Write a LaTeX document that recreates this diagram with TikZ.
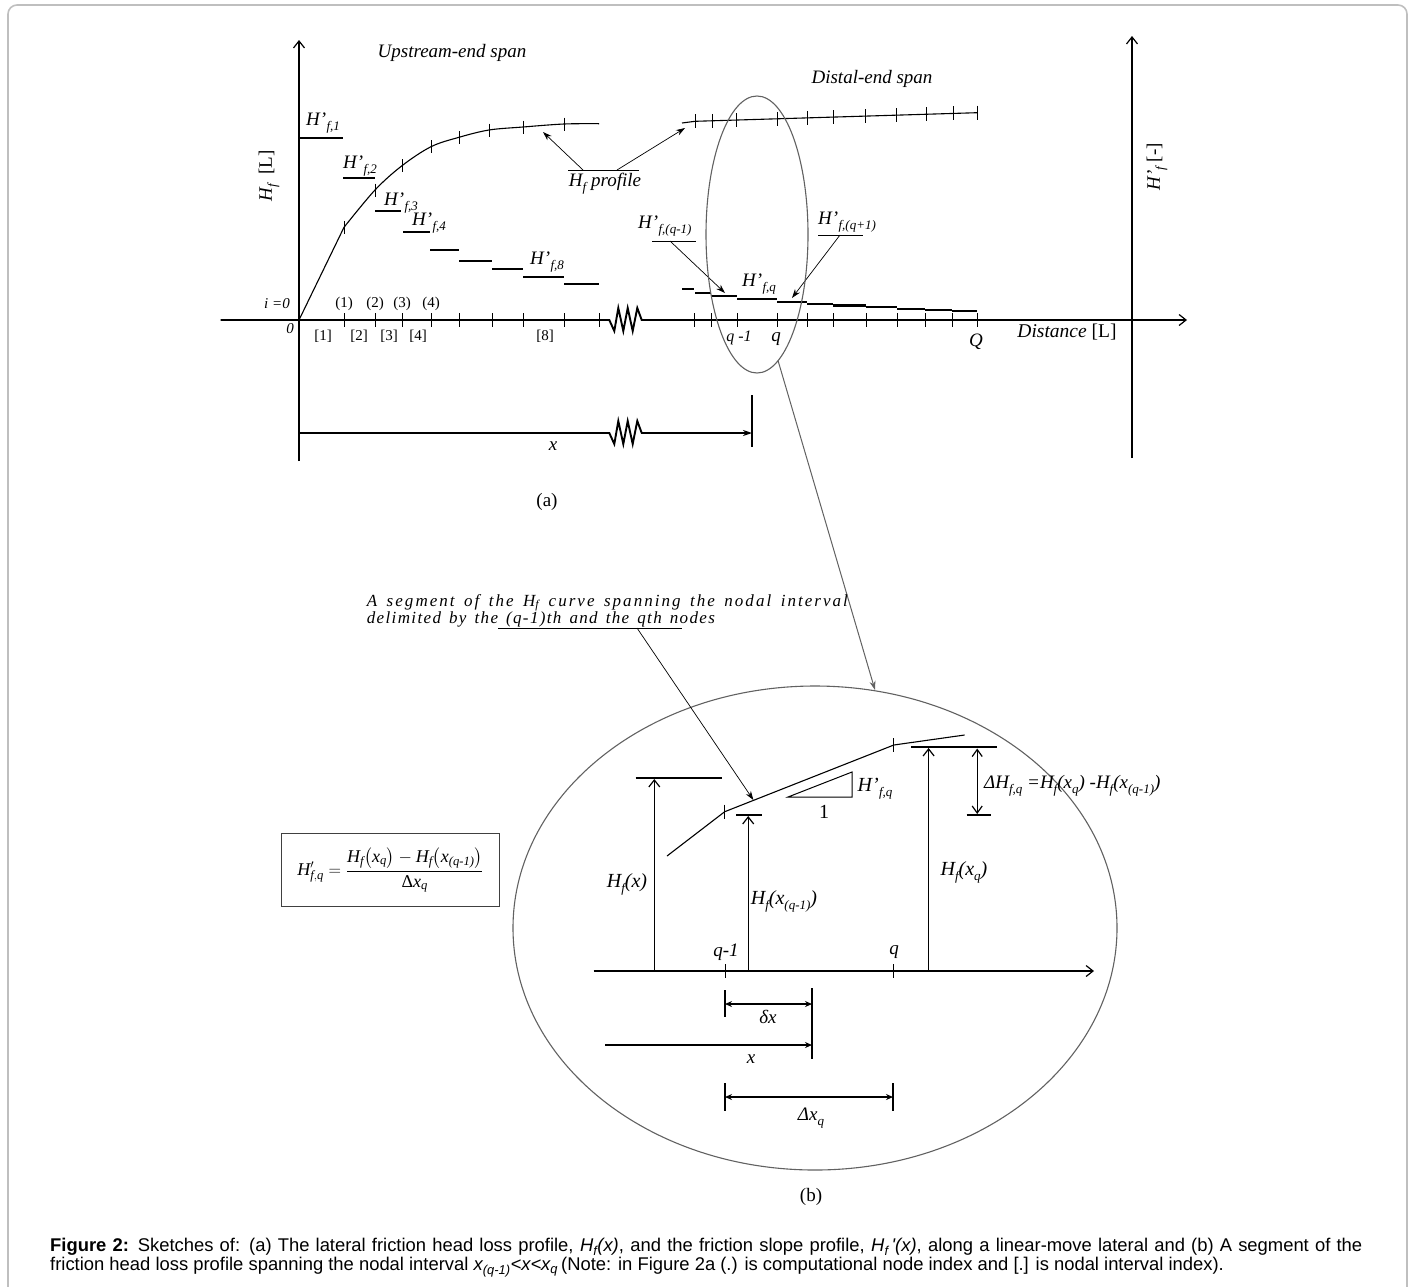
\documentclass[tikz,border=0pt]{standalone}
\usepackage{fontspec}
\setmainfont{Liberation Serif}
\newfontfamily\capfont{Liberation Sans}
\usepackage{amsmath}
\usetikzlibrary{arrows.meta,shapes.geometric,calc}
\newcommand\lsub[1]{\raisebox{-0.55ex}{\fontsize{13}{13}\selectfont\itshape #1}}
\newcommand\Hp[1]{\textit{H'}\kern0.3pt\lsub{f,#1}}
\newcommand\ti[1]{\text{\itshape #1}}
\tikzset{
 ax/.style={line width=1.5pt},
 haxis/.style={line width=1.9pt},
 tk/.style={line width=0.9pt},
 stp/.style={line width=2.2pt},
 crv/.style={line width=1.1pt},
 ann/.style={line width=0.7pt},
 annarrow/.style={ann,-{Stealth[length=9pt,width=6pt]}},
 barbtip/.style={-{Straight Barb[length=7pt,width=11pt,line width=1.2pt]}},
 dimarr/.style={line width=1.1pt,{Stealth[length=7pt,width=6pt]}-{Stealth[length=7pt,width=6pt]}},
 lbl/.style={inner sep=0pt},
 blbl/.style={inner sep=0pt, font=\fontsize{20}{23}\selectfont},
 sm/.style={font=\fontsize{15}{18}\selectfont, inner sep=0pt},
 gry/.style={draw=black!62, line width=1.1pt},
}
\begin{document}
\begin{tikzpicture}[x=1pt,y=-1pt,font=\fontsize{19}{22}\selectfont]
\useasboundingbox (0,0) rectangle (1415,1286);
% frame
\draw[black!25, line width=1.6pt, rounded corners=9pt] (8,1300) -- (8,5) -- (1407,5) -- (1407,1300);

% ================= panel (a) =================
\draw[ax, barbtip] (299,461) -- (299,40);
\draw[ax, barbtip] (1132,458) -- (1132,36);
\draw[haxis, barbtip] (220.7,320) -- (609.3,320) -- ++(5,11) -- ++(4,-23) -- ++(5,23) -- ++(4.4,-23) -- ++(5,23) -- ++(4.6,-23) -- ++(4.4,12) -- (1187,320);
% axis ticks
\foreach \x in {344,375,402,431,459,492,523,564,599,694,711,737,777,807,833,866,897,925,952,977}
  \draw[tk] (\x,313) -- (\x,327);
% upstream Hf curve
\draw[crv] (299,320) -- (344,227.3);
\draw[crv] plot[smooth, tension=0.55] coordinates{(344,227.3)(375,190)(402,165.7)(431,146.7)(459,137.3)(489,130)(523,127)(564,124)(599,123.7)};
\foreach \x/\y in {344/227.3,375/190,402/165.7,431/146.7,459/137.3,489/130,523/127,564/124}
  \draw[tk] (\x,\y-6.5) -- (\x,\y+6.5);
% distal Hf curve
\draw[crv] (682,123) -- (695,121.3) -- (977,112.7);
\foreach \x in {695,712,736,777,807,833,865,896,926,953,977}{
  \pgfmathsetmacro\yy{121.3-(\x-695)*8.6/282}
  \draw[tk] (\x,\yy-7) -- (\x,\yy+7);
}
% steps
\foreach \a/\b/\y in {299/343/138,343/375/178,375/401/211,403/430/232,430/459/250,459/492/261,492/523/269,523/564/277,564/599/284,
  682/694/289,695/711/293,711/737/296,737/777/299,777/807/302,807/833/304,833/866/305.5,866/897/307.3,897/925/308.7,925/952/310,952/977/311}
  \draw[stp] (\a,\y) -- (\b,\y);
% step labels
\node[lbl, anchor=west] (h1) at (306,123) {\Hp{1}};
\node[lbl, anchor=west] (h2) at (343,166) {\Hp{2}};
\node[lbl, anchor=west] (h3) at (384,203) {\Hp{3}};
\node[lbl, anchor=west] (h4) at (412,223) {\Hp{4}};
\node[lbl, anchor=west] (h8) at (530,262) {\Hp{8}};
\node[lbl, anchor=west] (hqm) at (638,226) {\Hp{(q-1)}};
\node[lbl, anchor=west] (hq) at (742,284) {\Hp{q}};
\node[lbl, anchor=west] (hqp) at (818,222) {\Hp{(q+1)}};
\coordinate (uqm1) at (652,241); \coordinate (uqm2) at (696,241);
\coordinate (uqp1) at (818,235); \coordinate (uqp2) at (863,235);
\draw[ann] (uqm1) -- (uqm2);
\draw[ann] (uqp1) -- (uqp2);
\coordinate (aqm0) at (670,241); \coordinate (aqm1) at (725,293);
\coordinate (aqp0) at (840,235); \coordinate (aqp1) at (792,298);
\draw[annarrow] (aqm0) -- (aqm1);
\draw[annarrow] (aqp0) -- (aqp1);
% Hf profile
\coordinate (hp1) at (568,170); \coordinate (hp2) at (639,170);
\draw[ann] (hp1) -- (hp2);
\node[lbl] (hprof) at (605,184) {\textit{H\lsub{f} profile}};
\coordinate (hpa0) at (583,170); \coordinate (hpa1) at (543,132);
\coordinate (hpb0) at (617,170); \coordinate (hpb1) at (685,128);
\draw[annarrow] (hpa0) -- (hpa1);
\draw[annarrow] (hpb0) -- (hpb1);
% titles
\node[lbl] (ups) at (452,53) {\textit{Upstream-end span}};
\node[lbl] (dis) at (872,79) {\textit{Distal-end span}};
\node[lbl, rotate=90] (ylab) at (269,176) {\textit{H\lsub{f}}\ \ [L]};
\node[lbl, rotate=90] (ylab2) at (1157,167) {\textit{H'\lsub{f}} [-]};
% index labels
\node[sm] (n1) at (344,304) {(1)};
\node[sm] (n2) at (375,304) {(2)};
\node[sm] (n3) at (402,304) {(3)};
\node[sm] (n4) at (431,304) {(4)};
\node[sm] (i0) at (277,304) {\textit{i =0}};
\node[sm] (z0) at (290,329) {\textit{0}};
\node[sm] (b1) at (323,336) {[1]};
\node[sm] (b2) at (359,336) {[2]};
\node[sm] (b3) at (389,336) {[3]};
\node[sm] (b4) at (418,336) {[4]};
\node[sm] (b8) at (545,336) {[8]};
\node[sm, font=\fontsize{16}{18}\selectfont] (lqm) at (739,338) {\textit{q -1}};
\node[lbl] (lq) at (776,339) {\textit{q}};
\node[lbl] (lQ) at (976,342) {\textit{Q}};
\node[lbl, font=\fontsize{19.5}{22}\selectfont] (dist) at (1067,332) {\textit{Distance} [L]};
% x dimension
\draw[haxis] (299,433) -- (609.3,433) -- ++(5,11) -- ++(4,-23) -- ++(5,23) -- ++(4.4,-23) -- ++(5,23) -- ++(4.6,-23) -- ++(4.4,12);
\coordinate (xd0) at (641.4,433); \coordinate (xd1) at (752,433);
\draw[line width=1.2pt, -{Stealth[length=9pt,width=6pt]}] (xd0) -- (xd1);
\draw[line width=2pt] (752,395) -- (752,447);
\node[lbl] (xa) at (553,446) {\textit{x}};
\node[lbl] (pa) at (547,502) {(a)};
% small ellipse
\node[gry, ellipse, minimum width=102pt, minimum height=277pt, inner sep=0pt] (sell) at (757,234.5) {};

% ================= panel (b) =================
\node[gry, ellipse, minimum width=604pt, minimum height=484pt, inner sep=0pt] (bell) at (815,928) {};
\coordinate (c1) at (778,360.5); \coordinate (c2) at (875,690);
\draw[draw=black!62, line width=1pt, -{Stealth[length=9pt,width=6pt]}] (c1) -- (c2);

% segment note
\node[lbl, anchor=base west, font=\fontsize{17}{19}\selectfont\itshape\addfontfeature{LetterSpace=12}] (seg1) at (366.7,606)
  {\makebox[481pt][s]{A segment of the H\textsubscript{f} curve spanning the nodal interval}};
\node[lbl, anchor=base west, font=\fontsize{17}{19}\selectfont\itshape\addfontfeature{LetterSpace=8}] (seg2) at (366.7,623)
  {\makebox[348pt][s]{delimited by the (q-1)th and the qth nodes}};
\coordinate (su0) at (498,628); \coordinate (su1) at (682,628);
\draw[ann] (su0) -- (su1);
\coordinate (sa0) at (637,628); \coordinate (sa1) at (753.4,800);
\draw[annarrow] (sa0) -- (sa1);

% axis b
\draw[line width=1.3pt, barbtip] (593.6,971) -- (1094,971);
\draw[tk] (725.4,964) -- (725.4,978);
\draw[tk] (893,964) -- (893,978);
% curve b
\draw[crv] (667,856) -- (724.7,811.7) -- (893.8,745) -- (964.6,735);
\draw[tk] (724.7,804.7) -- (724.7,818.7);
\draw[tk] (893.8,738) -- (893.8,752);
% bars
\draw[stp] (635.5,777.7) -- (721.6,777.7);
\draw[stp] (736,815) -- (762,815);
\draw[stp] (911,746.7) -- (997,746.7);
\draw[stp] (966.5,815) -- (991.4,815);
% vertical arrows
\draw[line width=1.3pt, barbtip] (654.3,971) -- (654.3,779);
\draw[line width=1.3pt, barbtip] (748.2,971) -- (748.2,816);
\draw[line width=1.3pt, barbtip] (928.6,971) -- (928.6,748);
\draw[line width=1.2pt, {Straight Barb[length=7pt,width=10pt,line width=1.2pt]}-{Straight Barb[length=7pt,width=10pt,line width=1.2pt]}] (977.2,748.5) -- (977.2,814);
% triangle
\draw[line width=1pt] (788,797) -- (852,797) -- (852,772) -- cycle;
\node[blbl] (hfq) at (875,789) {\Hp{q}};
\node[blbl] (one) at (824,812) {1};
\node[lbl, anchor=west] (dH) at (984,786) {\textit{ΔH\lsub{f,q} =H\lsub{f}(x\lsub{q}) -H\lsub{f}(x\lsub{(q-1)})}};
\node[blbl] (lhx) at (627,884) {\textit{H\lsub{f}(x)}};
\node[blbl] (lhxm) at (784,901) {\textit{H\lsub{f}(x\lsub{(q-1)})}};
\node[blbl] (lhxq) at (964,872.7) {\textit{H\lsub{f}(x\lsub{q})}};
\node[lbl] (bq1) at (726,952) {\textit{q-1}};
\node[lbl] (bq) at (894,952) {\textit{q}};
% dimensions
\draw[line width=2pt] (725,990) -- (725,1017);
\draw[line width=2pt] (812,988) -- (812,1059);
\draw[dimarr] (725,1004) -- (812,1004);
\node[lbl] (ldx) at (768,1017) {\textit{δx}};
\draw[line width=1.1pt, -{Stealth[length=7pt,width=6pt]}] (605,1045) -- (812,1045);
\node[lbl] (lx) at (751,1059) {\textit{x}};
\draw[line width=2pt] (725,1083) -- (725,1111);
\draw[line width=2pt] (893,1083) -- (893,1111);
\draw[dimarr] (725,1097) -- (893,1097);
\node[lbl] (lDx) at (811,1118) {\textit{Δx\lsub{q}}};
\node[lbl] (pb) at (811,1197) {(b)};

% formula box
\node[draw=black!75, line width=1pt, minimum width=217.6pt, minimum height=73.4pt, inner sep=0pt, font=\fontsize{18}{21}\selectfont] (fbox) at (390.5,870)
 {$\ti{H}'_{\ti{f},\ti{q}}=\dfrac{\ti{H}_{\ti{f}}\bigl(\ti{x}_{\ti{q}}\bigr)-\ti{H}_{\ti{f}}\bigl(\ti{x}_{\ti{(q-1)}}\bigr)}{\text{Δ}\ti{x}_{\ti{q}}}$};

% caption
\node[lbl, anchor=west, font=\capfont\fontsize{18.4}{21}\selectfont] (cap1) at (50,1247)
 {\makebox[1312pt][s]{\textbf{Figure 2:} Sketches of: (a) The lateral friction head loss profile, \textit{H\textsubscript{f}(x)}, and the friction slope profile, \textit{H\textsubscript{f}\,'(x)}, along a linear-move lateral and (b) A segment of the}};
\node[lbl, anchor=west, font=\capfont\fontsize{18.4}{21}\selectfont] (cap2) at (50,1267)
 {friction head loss profile spanning the nodal interval \textit{x\textsubscript{(q-1)}<x<x\textsubscript{q}}\,(Note: in Figure 2a (.) is computational node index and [.] is nodal interval index).};
\end{tikzpicture}
\end{document}
